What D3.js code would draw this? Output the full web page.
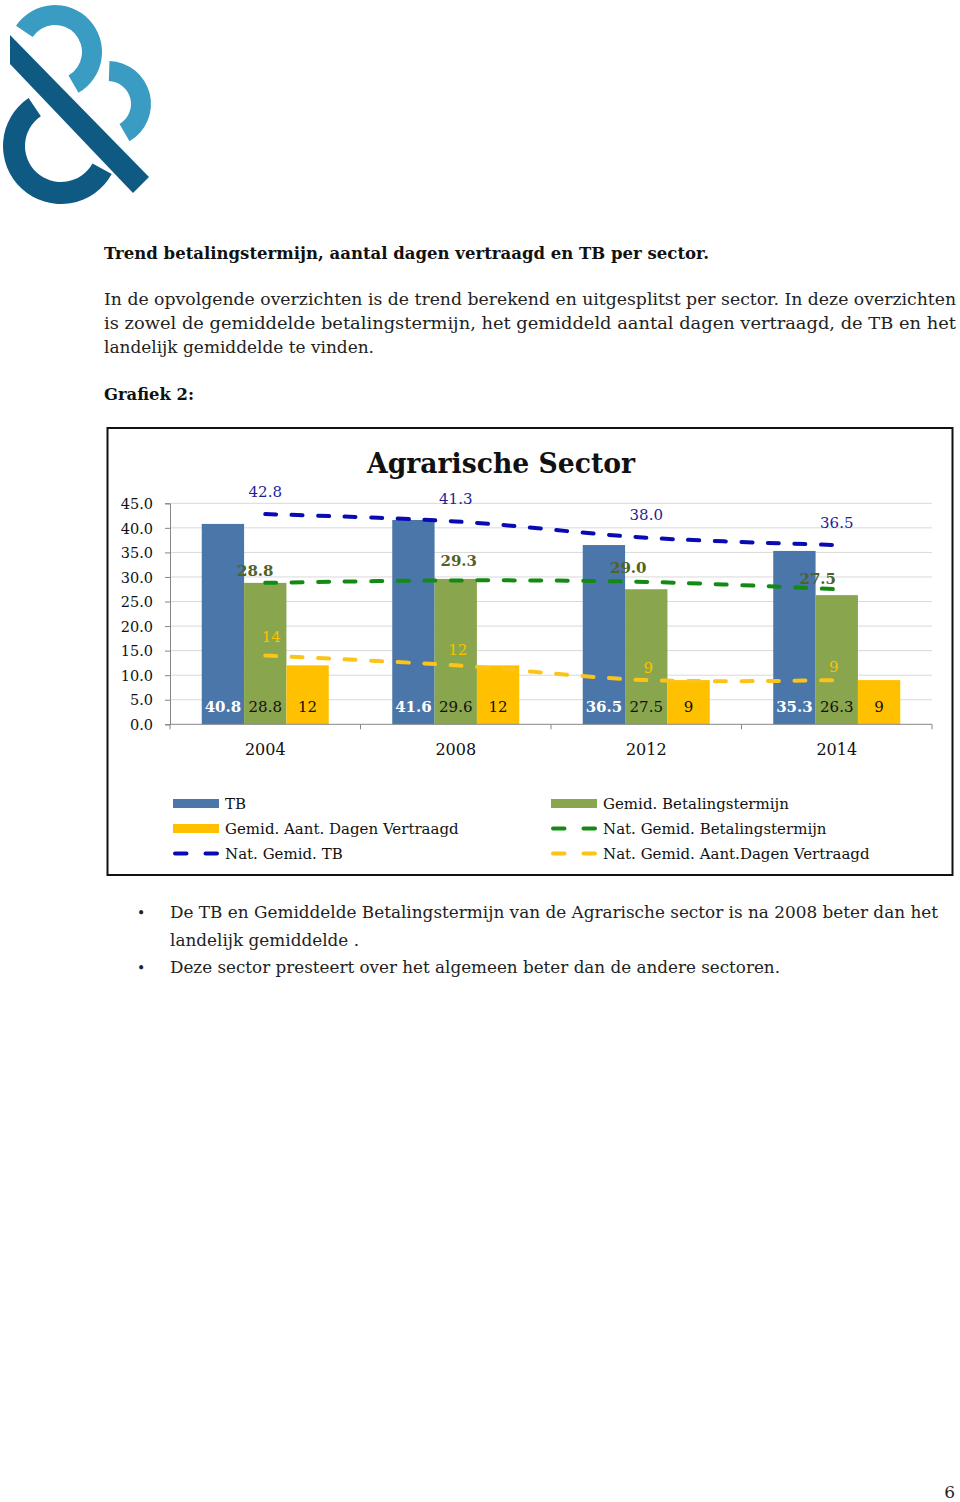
<!DOCTYPE html>
<html>
<head>
<meta charset="utf-8">
<script src="https://cdn.jsdelivr.net/npm/d3@7"></script>
<style>
  html, body { margin: 0; padding: 0; background: #fff; }
  svg { display: block; }
  text { font-family: "DejaVu Serif", serif; }
</style>
</head>
<body>
<svg id="page" width="960" height="1502"></svg>
<script>
// ---------------- data ----------------
const years = ["2004", "2008", "2012", "2014"];
const tb = [40.8, 41.6, 36.5, 35.3];
const betalingstermijn = [28.8, 29.6, 27.5, 26.3];
const dagenVertraagd = [12, 12, 9, 9];
const natTb = [42.8, 41.3, 38.0, 36.5];
const natBetalingstermijn = [28.8, 29.3, 29.0, 27.5];
const natDagenVertraagd = [14, 12, 9, 9];
const yTicks = [0, 5, 10, 15, 20, 25, 30, 35, 40, 45];

const chartTitle = "Agrarische Sector";
const barSeriesNames = ["TB", "Gemid. Betalingstermijn", "Gemid. Aant. Dagen Vertraagd"];
const lineSeriesNames = ["Nat. Gemid. TB", "Nat. Gemid. Betalingstermijn", "Nat. Gemid. Aant.Dagen Vertraagd"];

const heading = "Trend betalingstermijn, aantal dagen vertraagd en TB per sector.";
const paragraph = [
  "In de opvolgende overzichten is de trend berekend en uitgesplitst per sector. In deze overzichten",
  "is zowel de gemiddelde betalingstermijn, het gemiddeld aantal dagen vertraagd, de TB en het",
  "landelijk gemiddelde te vinden."
];
const grafiekLabel = "Grafiek 2:";
const bullets = [
  ["De TB en Gemiddelde Betalingstermijn van de Agrarische sector is na 2008 beter dan het", "landelijk gemiddelde ."],
  ["Deze sector presteert over het algemeen beter dan de andere sectoren."]
];
const pageNumber = "6";

// ---------------- styles / layout ----------------
const barColors = ["#4a76a9", "#89a54e", "#ffc000"];
const lineColors = ["#0a0ab4", "#138a13", "#fcc419"];
const lineLabelColors = ["#1f1f96", "#4f6228", "#ffc000"];
const barLabelColors = ["#ffffff", "#111111", "#111111"];
// label nudges (px) relative to each line point: [dx, dy]
const lineLabelNudge = [
  [[0, -17.5], [0, -17.5], [0, -17.5], [0, -17.5]],
  [[-10, -7], [3, -14], [-18, -9], [-19, -5]],
  [[6, -14], [2, -10], [2, -7], [-3, -8]]
];

const svg = d3.select("#page");

function fitText(sel, w, mode) {
  if (w) sel.attr("textLength", w).attr("lengthAdjust", mode || "spacingAndGlyphs");
  return sel;
}

// ---------------- logo ----------------
const logo = svg.append("g");
const deg = Math.PI / 180;
logo.append("path")
  .attr("transform", "translate(55,52)")
  .attr("d", d3.arc()({ innerRadius: 27, outerRadius: 47, startAngle: -56 * deg, endAngle: 150 * deg }))
  .attr("fill", "#3a9bc3");
logo.append("path")
  .attr("transform", "translate(108,104)")
  .attr("d", d3.arc()({ innerRadius: 23, outerRadius: 43, startAngle: 2 * deg, endAngle: 150 * deg }))
  .attr("fill", "#3a9bc3");
logo.append("path")
  .attr("transform", "translate(61,146)")
  .attr("d", d3.arc()({ innerRadius: 36, outerRadius: 58, startAngle: 119 * deg, endAngle: 326 * deg }))
  .attr("fill", "#0e5a82");
logo.append("path")
  .attr("d", d3.line()([[10, 35], [149, 177], [133, 193], [10, 64]]) + "Z")
  .attr("fill", "#0e5a82");

// ---------------- page text ----------------
fitText(svg.append("text").attr("x", 104).attr("y", 259)
  .attr("font-size", 17).attr("font-weight", "bold").attr("fill", "#111").text(heading), 605);
const paraW = [852, 852, 270];
paragraph.forEach((t, i) => {
  fitText(svg.append("text").attr("x", 104).attr("y", 305 + i * 24)
    .attr("font-size", 17).attr("fill", "#222").text(t), paraW[i]);
});
fitText(svg.append("text").attr("x", 104).attr("y", 400)
  .attr("font-size", 17).attr("font-weight", "bold").attr("fill", "#111").text(grafiekLabel), 90);

// ---------------- chart box ----------------
svg.append("rect").attr("x", 107.5).attr("y", 428).attr("width", 845).attr("height", 447)
  .attr("fill", "#fff").attr("stroke", "#111").attr("stroke-width", 2);

fitText(svg.append("text").attr("x", 501).attr("y", 473).attr("text-anchor", "middle")
  .attr("font-size", 28).attr("font-weight", "bold").attr("fill", "#111").text(chartTitle), 268);

// scales
const x0 = d3.scaleBand().domain(years).range([170, 932]).padding(0);
const bw = x0.bandwidth();
const x1 = d3.scaleBand().domain(d3.range(3)).range([bw / 6, bw * 5 / 6]).padding(0);
const y = d3.scaleLinear().domain([0, 45]).range([724.3, 503.3]);

// gridlines
svg.append("g").selectAll("line").data(yTicks.filter(d => d > 0)).join("line")
  .attr("x1", 170).attr("x2", 932)
  .attr("y1", d => y(d)).attr("y2", d => y(d))
  .attr("stroke", "#d9d9d9").attr("stroke-width", 1);

// y axis
const yAxis = svg.append("g").attr("transform", "translate(170,0)")
  .call(d3.axisLeft(y).tickValues(yTicks).tickFormat(d3.format(".1f")).tickSize(5).tickPadding(12));
yAxis.select(".domain").attr("stroke", "#868686");
yAxis.selectAll(".tick line").attr("stroke", "#868686");
yAxis.selectAll(".tick text").attr("font-family", "DejaVu Serif").attr("font-size", 14.5)
  .attr("fill", "#111").attr("dy", "0.36em");

// bars
const barSeries = [tb, betalingstermijn, dagenVertraagd];
const barFmt = [d3.format(".1f"), d3.format(".1f"), d3.format("d")];
barSeries.forEach((vals, s) => {
  const g = svg.append("g");
  g.selectAll("rect").data(vals).join("rect")
    .attr("x", (d, i) => x0(years[i]) + x1(s))
    .attr("y", d => y(d))
    .attr("width", x1.bandwidth())
    .attr("height", d => y(0) - y(d))
    .attr("fill", barColors[s]);
  g.selectAll("text").data(vals).join("text")
    .attr("x", (d, i) => x0(years[i]) + x1(s) + x1.bandwidth() / 2)
    .attr("y", y(0) - 12.5)
    .attr("text-anchor", "middle")
    .attr("font-size", 15)
    .attr("font-weight", s === 0 ? "bold" : "normal")
    .attr("fill", barLabelColors[s])
    .text(d => barFmt[s](d));
});

// x axis
const xAxisG = svg.append("g");
xAxisG.append("line").attr("x1", 170).attr("x2", 932).attr("y1", y(0)).attr("y2", y(0))
  .attr("stroke", "#868686");
xAxisG.selectAll("line.tk").data(years.map(d => x0(d)).concat([x0.range()[1]])).join("line")
  .attr("class", "tk")
  .attr("x1", d => d).attr("x2", d => d).attr("y1", y(0)).attr("y2", y(0) + 5)
  .attr("stroke", "#868686");
xAxisG.selectAll("text").data(years).join("text")
  .attr("x", d => x0(d) + bw / 2).attr("y", 755)
  .attr("text-anchor", "middle").attr("font-size", 16).attr("fill", "#111")
  .text(d => d);

// lines
const lineSeries = [natTb, natBetalingstermijn, natDagenVertraagd];
const lineFmt = [d3.format(".1f"), d3.format(".1f"), d3.format("d")];
const lineGen = d3.line()
  .x((d, i) => x0(years[i]) + bw / 2)
  .y(d => y(d))
  .curve(d3.curveCatmullRom.alpha(0.5));
lineSeries.forEach((vals, s) => {
  svg.append("path").datum(vals)
    .attr("d", lineGen)
    .attr("fill", "none")
    .attr("stroke", lineColors[s])
    .attr("stroke-width", 4)
    .attr("stroke-linecap", "round")
    .attr("stroke-dasharray", "11,15.5");
});
lineSeries.forEach((vals, s) => {
  svg.append("g").selectAll("text").data(vals).join("text")
    .attr("x", (d, i) => x0(years[i]) + bw / 2 + lineLabelNudge[s][i][0])
    .attr("y", (d, i) => y(d) + lineLabelNudge[s][i][1])
    .attr("text-anchor", "middle")
    .attr("font-size", 15)
    .attr("font-weight", s === 1 ? "bold" : "normal")
    .attr("fill", lineLabelColors[s])
    .text(d => lineFmt[s](d));
});

// legend
const legendItems = [
  { name: barSeriesNames[0], type: "bar", color: barColors[0], col: 0, row: 0 },
  { name: barSeriesNames[1], type: "bar", color: barColors[1], col: 1, row: 0 },
  { name: barSeriesNames[2], type: "bar", color: barColors[2], col: 0, row: 1 },
  { name: lineSeriesNames[1], type: "line", color: lineColors[1], col: 1, row: 1 },
  { name: lineSeriesNames[0], type: "line", color: lineColors[0], col: 0, row: 2 },
  { name: lineSeriesNames[2], type: "line", color: lineColors[2], col: 1, row: 2 }
];
const legColX = [173, 551];
const legRowY = [803.5, 828.5, 853.5];
const lg = svg.append("g");
legendItems.forEach(it => {
  const lx = legColX[it.col], ly = legRowY[it.row];
  if (it.type === "bar") {
    lg.append("rect").attr("x", lx).attr("y", ly - 4.5).attr("width", 46).attr("height", 9).attr("fill", it.color);
  } else {
    lg.append("line").attr("x1", lx + 2).attr("x2", lx + 44).attr("y1", ly).attr("y2", ly)
      .attr("stroke", it.color).attr("stroke-width", 4).attr("stroke-linecap", "round")
      .attr("stroke-dasharray", "11.5,19");
  }
  lg.append("text").attr("x", lx + 52).attr("y", ly + 5.5)
    .attr("font-size", 15).attr("fill", "#111").text(it.name);
});

// bullets
const bulletW = [[768, 189], [610]];
let by = 918;
bullets.forEach((lines, b) => {
  svg.append("text").attr("x", 137).attr("y", by).attr("font-size", 14).attr("fill", "#222").text("•");
  lines.forEach((t, j) => {
    fitText(svg.append("text").attr("x", 170).attr("y", by)
      .attr("font-size", 17).attr("fill", "#222").text(t), bulletW[b][j]);
    by += 27.5;
  });
});

// page number
svg.append("text").attr("x", 955).attr("y", 1498).attr("text-anchor", "end")
  .attr("font-size", 17).attr("fill", "#222").text(pageNumber);
</script>
</body>
</html>
